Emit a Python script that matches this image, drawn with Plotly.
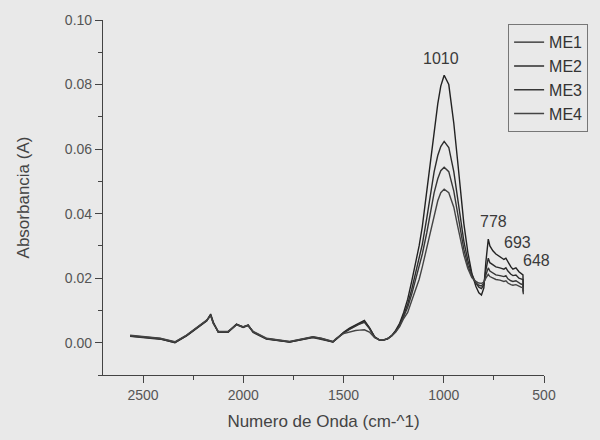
import plotly.graph_objects as go

wavenumber = [2565, 2465, 2415, 2341, 2283, 2216, 2183, 2163, 2150, 2125, 2076, 2034, 2001, 1976,
              1951, 1885, 1769, 1653, 1611, 1553, 1536, 1500, 1470, 1440, 1420, 1396, 1371, 1345,
              1321, 1300, 1280, 1260, 1240, 1220, 1200, 1180, 1160, 1140, 1123, 1107, 1085, 1065,
              1048, 1030, 1015, 998, 975, 950, 932, 920, 900, 880, 860, 840, 825, 812, 800, 790,
              778, 770, 755, 740, 720, 700, 690, 680, 665, 655, 640, 625, 615, 605, 603]

me1 = [0.0021, 0.0015, 0.0012, 0.0000, 0.0022, 0.0053, 0.0068, 0.0089, 0.0064, 0.0033, 0.0033, 0.0058, 0.0048, 0.0055,
       0.0033, 0.0012, 0.0002, 0.0017, 0.0012, 0.0002, 0.0012, 0.0032, 0.0045, 0.0055, 0.0063, 0.0069, 0.0047, 0.0018,
       0.0008, 0.0008, 0.0012, 0.0022, 0.0038, 0.0060, 0.0094, 0.0135, 0.0190, 0.0245, 0.0300, 0.0360, 0.0470, 0.0570,
       0.0660, 0.0740, 0.0795, 0.0829, 0.0800, 0.0680, 0.0570, 0.0490, 0.0370, 0.0280, 0.0215, 0.0175, 0.0155, 0.0148, 0.0170, 0.0250,
       0.0321, 0.0300, 0.0285, 0.0275, 0.0265, 0.0258, 0.0262, 0.0250, 0.0235, 0.0228, 0.0232, 0.0220, 0.0215, 0.0210, 0.0160]

me2 = [0.0022, 0.0016, 0.0013, 0.0002, 0.0023, 0.0054, 0.0069, 0.0086, 0.0062, 0.0034, 0.0034, 0.0057, 0.0049, 0.0054,
       0.0034, 0.0013, 0.0003, 0.0018, 0.0013, 0.0003, 0.0013, 0.0031, 0.0043, 0.0053, 0.0060, 0.0066, 0.0046, 0.0018,
       0.0009, 0.0009, 0.0013, 0.0022, 0.0036, 0.0056, 0.0085, 0.0120, 0.0165, 0.0215, 0.0262, 0.0305, 0.0385, 0.0465,
       0.0530, 0.0580, 0.0608, 0.0624, 0.0605, 0.0530, 0.0450, 0.0400, 0.0315, 0.0255, 0.0212, 0.0185, 0.0172, 0.0168, 0.0180, 0.0225,
       0.0262, 0.0248, 0.0240, 0.0235, 0.0232, 0.0228, 0.0232, 0.0222, 0.0212, 0.0208, 0.0210, 0.0200, 0.0198, 0.0196, 0.0158]

me3 = [0.0020, 0.0014, 0.0011, 0.0001, 0.0021, 0.0052, 0.0067, 0.0085, 0.0061, 0.0032, 0.0032, 0.0056, 0.0047, 0.0053,
       0.0032, 0.0011, 0.0002, 0.0016, 0.0011, 0.0002, 0.0011, 0.0030, 0.0041, 0.0051, 0.0058, 0.0063, 0.0044, 0.0017,
       0.0008, 0.0008, 0.0012, 0.0021, 0.0034, 0.0053, 0.0080, 0.0110, 0.0150, 0.0195, 0.0235, 0.0275, 0.0340, 0.0410,
       0.0465, 0.0508, 0.0533, 0.0544, 0.0530, 0.0470, 0.0405, 0.0360, 0.0290, 0.0240, 0.0205, 0.0186, 0.0178, 0.0176, 0.0185, 0.0210,
       0.0232, 0.0222, 0.0215, 0.0210, 0.0208, 0.0205, 0.0208, 0.0198, 0.0192, 0.0190, 0.0192, 0.0185, 0.0182, 0.0180, 0.0155]

me4 = [0.0023, 0.0017, 0.0014, 0.0003, 0.0024, 0.0055, 0.0070, 0.0084, 0.0060, 0.0035, 0.0035, 0.0055, 0.0050, 0.0053,
       0.0035, 0.0014, 0.0004, 0.0019, 0.0014, 0.0004, 0.0014, 0.0028, 0.0034, 0.0038, 0.0039, 0.0040, 0.0033, 0.0016,
       0.0009, 0.0009, 0.0013, 0.0021, 0.0033, 0.0050, 0.0075, 0.0094, 0.0130, 0.0168, 0.0196, 0.0235, 0.0295, 0.0350,
       0.0400, 0.0440, 0.0465, 0.0476, 0.0465, 0.0420, 0.0365, 0.0330, 0.0272, 0.0230, 0.0202, 0.0190, 0.0185, 0.0184, 0.0188, 0.0200,
       0.0212, 0.0205, 0.0200, 0.0196, 0.0194, 0.0190, 0.0192, 0.0185, 0.0180, 0.0178, 0.0180, 0.0174, 0.0172, 0.0170, 0.0150]

series = {"ME1": me1, "ME2": me2, "ME3": me3, "ME4": me4}
line_colors = {"ME1": "#222222", "ME2": "#2c2c2c", "ME3": "#363636", "ME4": "#444444"}

peak_labels = ["1010", "778", "693", "648"]
peak_label_x = [1012, 754, 634, 535]
peak_label_y = [0.0881, 0.0376, 0.0312, 0.0254]

fig = go.Figure()
for name, vals in series.items():
    fig.add_trace(go.Scatter(x=wavenumber, y=vals, mode="lines", name=name,
                             line=dict(color=line_colors[name], width=1.4)))

for t, x, y in zip(peak_labels, peak_label_x, peak_label_y):
    fig.add_annotation(x=x, y=y, text=t, showarrow=False, xref="x", yref="y",
                       font=dict(size=16, color="#3a3a3a", family="Liberation Sans, Arial"))

bg = "#e9e9e9"
axis_col = "#444444"
fig.update_layout(
    width=600, height=440,
    margin=dict(l=103, r=55, t=17, b=63),
    paper_bgcolor=bg, plot_bgcolor=bg,
    font=dict(family="Liberation Sans, Arial", color="#555555"),
    showlegend=True,
    legend=dict(x=0.9186, y=0.988, xanchor="left", yanchor="top",
                bgcolor="rgba(0,0,0,0)", bordercolor="#777777", borderwidth=1,
                font=dict(size=16, color="#333333"), tracegroupgap=0),
    xaxis=dict(range=[2700, 500], dtick=500, tick0=500, showgrid=False, zeroline=False,
               showline=True, linecolor=axis_col, linewidth=1.2,
               ticks="outside", ticklen=7, tickcolor=axis_col, tickwidth=1.2,
               minor=dict(dtick=250, tick0=500, ticks="outside", ticklen=4, tickcolor=axis_col, tickwidth=1),
               tickfont=dict(size=14, color="#555555"),
               title=dict(text="Numero de Onda (cm-^1)", font=dict(size=17, color="#444444"), standoff=13)),
    yaxis=dict(range=[-0.01, 0.10], dtick=0.02, tick0=0, tickformat=".2f", showgrid=False, zeroline=False,
               showline=True, linecolor=axis_col, linewidth=1.2,
               ticks="outside", ticklen=7, tickcolor=axis_col, tickwidth=1.2,
               minor=dict(dtick=0.01, tick0=0, ticks="outside", ticklen=4, tickcolor=axis_col, tickwidth=1),
               tickfont=dict(size=14, color="#555555"),
               title=dict(text="Absorbancia (A)", font=dict(size=17, color="#444444"), standoff=30)),
)

fig.write_html("out.html")
